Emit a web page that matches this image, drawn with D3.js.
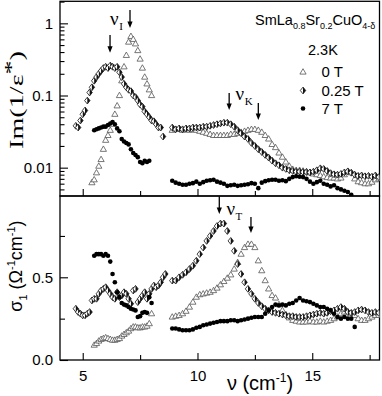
<!DOCTYPE html>
<html><head><meta charset="utf-8">
<script src="https://cdn.jsdelivr.net/npm/d3@7"></script>
<style>body{margin:0;background:#fff} svg{display:block}</style>
</head><body><svg id="c" width="382" height="396"></svg>
<script>
// ---- data (frequency in cm^-1) ----
const freqLo = [4.7,4.8,4.9,5.0,5.1,5.2,5.3,5.4,5.5,5.6,5.7,5.8,5.9,6.0,6.1,6.2,6.3,6.4,6.5,6.6,6.7,6.8,6.9,7.0,7.1,7.2,7.3,7.4,7.5,7.6,7.7,7.8,7.9,8.0,8.1,8.2,8.3,8.4,8.5,8.6];
const freqHi = [8.9,9.05,9.2,9.35,9.5,9.65,9.8,9.95,10.1,10.25,10.4,10.55,10.7,10.85,11.0,11.15,11.3,11.45,11.6,11.75,11.9,12.05,12.2,12.35,12.5,12.65,12.8,12.95,13.1,13.25,13.4,13.55,13.7,13.85,14.0,14.15,14.3,14.45,14.6,14.75,14.9,15.05,15.2,15.35,15.5,15.65,15.8,15.95,16.1,16.25,16.4,16.55,16.7,16.85,17.0,17.15,17.3,17.45,17.6,17.75,17.9];

// Im(1/eps*) — top panel
const imLo0T = [null,null,null,null,null,null,null,0.0062,0.0068,0.0085,0.0105,0.013,0.018,0.024,0.028,0.033,0.040,0.055,0.072,0.10,0.16,0.25,0.36,0.55,0.66,0.60,0.52,0.42,0.32,0.24,0.18,0.145,0.12,0.10,null,null,null,null,null,null];
const imLo025T = [0.038,0.036,0.045,0.055,0.062,0.085,0.11,0.13,0.16,0.18,0.20,0.22,0.24,0.25,0.24,0.26,0.25,0.24,0.25,0.21,0.18,0.145,0.13,0.12,0.115,0.10,0.095,0.085,0.075,0.07,0.06,0.055,0.05,0.045,0.044,0.04,0.036,0.036,0.027,null];
const imLo7T = [null,null,null,null,null,null,null,null,0.033,0.034,0.035,0.036,0.037,0.037,0.039,0.041,0.043,0.040,0.035,0.032,0.025,0.023,0.022,0.021,0.018,0.016,0.015,0.014,0.012,0.0115,0.0125,0.012,0.0125,null,null,null,null,null,null,null];
const imHi0T = [0.033,0.034,0.034,0.033,0.034,0.033,0.034,0.033,0.032,0.031,0.030,0.029,0.028,0.028,0.028,0.028,0.028,0.029,0.029,0.030,0.031,0.032,0.033,0.034,0.034,0.033,0.031,0.028,0.025,0.021,0.019,0.016,0.014,0.012,0.0105,0.0095,0.0092,0.0092,0.0090,0.0088,0.0085,0.0082,0.0080,0.0078,0.0075,0.0073,0.0072,0.0072,0.0070,0.0072,0.0080,0.0088,0.0085,0.0070,0.0064,0.0062,0.0060,0.0060,0.0063,0.0068,0.0070];
const imHi025T = [0.036,0.034,0.035,0.034,0.035,0.035,0.036,0.036,0.036,0.037,0.037,0.038,0.039,0.040,0.041,0.042,0.042,0.040,0.037,0.033,0.030,0.027,0.025,0.022,0.020,0.018,0.0165,0.015,0.0138,0.0125,0.0115,0.0108,0.0100,0.0096,0.0092,0.0090,0.0088,0.0088,0.0087,0.0087,0.0086,0.0088,0.0092,0.0098,0.0096,0.0090,0.0084,0.0081,0.0080,0.0082,0.0086,0.0089,0.0085,0.0080,0.0077,0.0078,0.0076,0.0077,0.0075,0.0078,0.0074];
const imHi7T = [0.0066,0.0062,0.0060,0.0058,0.0058,0.0060,0.0061,0.0064,0.0060,0.0063,0.0066,0.0067,0.0068,0.0064,0.0062,0.0060,0.0056,0.0057,0.0058,0.0056,0.0057,0.0058,0.0059,0.0061,0.0060,0.0052,0.0062,0.0065,0.0067,0.0068,0.0068,0.0066,0.0067,0.0065,0.0070,0.0074,0.0076,0.0075,0.0074,0.0070,0.0064,0.0060,0.0063,0.0066,0.0060,0.0058,0.0055,0.0057,0.0052,0.0050,0.0048,0.0046,0.0042,null,null,null,null,null,null,null,null];

// sigma_1 — bottom panel
const sigLo0T = [null,null,null,null,null,null,null,null,0.09,0.10,0.115,0.125,0.13,0.135,0.13,0.125,0.12,0.12,0.125,0.13,0.145,0.155,0.165,0.175,0.19,0.20,0.20,0.195,0.195,0.20,0.20,0.205,0.22,0.28,null,null,null,null,null,null];
const sigLo025T = [0.31,0.29,0.28,0.27,0.27,0.28,0.29,0.36,0.37,0.37,0.40,0.42,0.43,0.44,0.42,0.40,0.38,0.37,0.41,0.38,0.39,0.41,0.40,0.37,0.34,0.42,0.43,0.35,0.37,0.39,0.41,0.37,0.40,0.43,0.45,0.44,0.45,0.47,0.50,0.52];
const sigLo7T = [null,null,null,null,null,null,null,null,0.63,0.64,0.64,0.64,0.63,0.64,0.63,0.595,0.52,0.47,0.41,0.38,0.345,0.335,0.33,0.32,0.31,0.305,0.30,0.26,0.265,0.285,0.29,0.285,0.38,0.345,null,null,null,null,null,null];
const sigHi0T = [0.26,0.265,0.27,0.28,0.295,0.32,0.35,0.38,0.395,0.40,0.405,0.41,0.42,0.435,0.455,0.475,0.495,0.515,0.55,0.59,0.64,0.68,0.70,0.70,0.68,0.60,0.54,0.48,0.43,0.39,0.375,0.335,0.30,0.275,0.255,0.24,0.235,0.23,0.23,0.23,0.235,0.23,0.23,0.235,0.23,0.235,0.24,0.25,0.26,0.28,0.29,0.29,0.28,0.27,0.25,0.24,0.24,0.25,0.26,0.27,0.27];
const sigHi025T = [0.48,0.48,0.50,0.515,0.53,0.55,0.57,0.60,0.64,0.68,0.72,0.75,0.78,0.81,0.825,0.825,0.78,0.72,0.66,0.58,0.52,0.47,0.43,0.40,0.37,0.345,0.325,0.31,0.30,0.29,0.285,0.28,0.275,0.27,0.265,0.265,0.26,0.26,0.26,0.265,0.27,0.275,0.28,0.285,0.28,0.285,0.295,0.30,0.31,0.32,0.31,0.29,0.285,0.29,0.30,0.305,0.30,0.29,0.285,0.29,0.285];
const sigHi7T = [0.19,0.19,0.185,0.18,0.18,0.18,0.185,0.195,0.20,0.21,0.215,0.22,0.225,0.23,0.235,0.235,0.235,0.24,0.24,0.235,0.24,0.245,0.25,0.255,0.26,0.26,0.26,0.28,0.30,0.32,0.335,0.33,0.335,0.33,0.34,0.345,0.36,0.375,0.36,0.355,0.35,0.34,0.33,0.32,0.32,0.31,0.30,0.28,0.26,0.25,0.26,0.25,0.25,0.20,null,null,null,null,null,null,null];

const seriesNames = ["0 T", "0.25 T", "7 T"];
const xTicksMajor = [5, 10, 15];
const xTicksMinor = [7.5, 12.5, 17.5];
const topTicksMajor = [0.01, 0.1, 1];
const botTicksMajor = [0.0, 0.5];
const botTicksMinor = [0.25, 0.75];

// annotations (data coordinates)
const arrowsTop = [{f:6.19, a:0.69, b:0.39}, {f:7.06, a:1.53, b:0.86}, {f:11.38, a:0.108, b:0.063}, {f:12.65, a:0.0787, b:0.0458}];
const arrowsBot = [{f:10.95, a:0.99, b:0.883}, {f:12.33, a:0.865, b:0.768}];
const labelsTop = [{f:6.19, v:0.95, sub:"I"}, {f:11.66, v:0.0866, sub:"K"}];
const labelsBot = [{f:11.26, v:0.877, sub:"T"}];

// ---- layout ----
const svg = d3.select('#c');
const L = 60, R = 379.5, T = 1.3, M = 196, B = 360;
const x = d3.scaleLinear().domain([4.01, 17.93]).range([L, R]);
const yTop = d3.scaleLog().domain([0.00405, 2.02]).range([M, T]);
const yBot = d3.scaleLinear().domain([0, 0.9915]).range([B, M]);
const sans = "Liberation Sans, Arial, sans-serif";
const serif = "Liberation Serif, Times New Roman, serif";

const defs = svg.append('defs');
defs.append('clipPath').attr('id','cpT').append('rect').attr('x',L).attr('y',T).attr('width',R-L).attr('height',M-T);
defs.append('clipPath').attr('id','cpB').append('rect').attr('x',L).attr('y',M).attr('width',R-L).attr('height',B-M);

function styleAxis(g, fs){
  g.select('.domain').remove();
  g.selectAll('line').attr('stroke','#000').attr('stroke-width',1.1);
  g.selectAll('text').attr('font-family',sans).attr('font-size',fs).attr('fill','#000');
}

// log minor ticks
const minorLog = [];
[0.001,0.01,0.1,1].forEach(d => { for (let k=2;k<=9;k++){ const v=d*k; if (v>0.00405 && v<2.02) minorLog.push(v);} });

// top panel axes
svg.append('g').attr('transform',`translate(${L},0)`)
  .call(d3.axisLeft(yTop).tickValues(topTicksMajor).tickSize(-8).tickPadding(7).tickFormat(d3.format('~g')))
  .call(g=>styleAxis(g,15));
svg.append('g').attr('transform',`translate(${L},0)`)
  .call(d3.axisLeft(yTop).tickValues(minorLog).tickSize(-4.5).tickFormat(''))
  .call(g=>styleAxis(g,15));
svg.append('g').attr('transform',`translate(0,${M})`)
  .call(d3.axisBottom(x).tickValues(xTicksMajor).tickSize(-7).tickFormat(''))
  .call(g=>styleAxis(g,15));
svg.append('g').attr('transform',`translate(0,${M})`)
  .call(d3.axisBottom(x).tickValues(xTicksMinor).tickSize(-5).tickFormat(''))
  .call(g=>styleAxis(g,15));

// bottom panel axes
svg.append('g').attr('transform',`translate(${L},0)`)
  .call(d3.axisLeft(yBot).tickValues(botTicksMajor).tickSize(-8).tickPadding(7).tickFormat(d3.format('.1f')))
  .call(g=>styleAxis(g,15));
svg.append('g').attr('transform',`translate(${L},0)`)
  .call(d3.axisLeft(yBot).tickValues(botTicksMinor).tickSize(-5).tickFormat(''))
  .call(g=>styleAxis(g,15));
svg.append('g').attr('transform',`translate(0,${B})`)
  .call(d3.axisBottom(x).tickValues(xTicksMajor).tickSize(-7).tickPadding(10).tickFormat(d3.format('d')))
  .call(g=>styleAxis(g,15));
svg.append('g').attr('transform',`translate(0,${B})`)
  .call(d3.axisBottom(x).tickValues(xTicksMinor).tickSize(-5).tickFormat(''))
  .call(g=>styleAxis(g,15));

// frames
svg.append('rect').attr('x',L).attr('y',T).attr('width',R-L).attr('height',M-T).attr('fill','none').attr('stroke','#000').attr('stroke-width',1.3);
svg.append('rect').attr('x',L).attr('y',M).attr('width',R-L).attr('height',B-M).attr('fill','none').attr('stroke','#000').attr('stroke-width',1.3);

// markers
const triPath = "M0,-3.3L3.1,2.1L-3.1,2.1Z";
const diaPath = "M0,-3.4L2.7,0L0,3.4L-2.7,0Z";
const diaHalf = "M0,-3.4L2.7,0L0,3.4Z";
function drawTri(g, pts){
  g.selectAll(null).data(pts).join('path').attr('d',triPath)
   .attr('transform',d=>`translate(${d[0]},${d[1]})`)
   .attr('fill','#fff').attr('stroke','#555').attr('stroke-width',0.8);
}
function drawDia(g, pts){
  const s = g.selectAll(null).data(pts).join('g').attr('transform',d=>`translate(${d[0]},${d[1]})`);
  s.append('path').attr('d',diaPath).attr('fill','#fff').attr('stroke','#111').attr('stroke-width',0.8);
  s.append('path').attr('d',diaHalf).attr('fill','#111');
}
function drawDot(g, pts){
  g.selectAll(null).data(pts).join('circle').attr('cx',d=>d[0]).attr('cy',d=>d[1]).attr('r',2.3).attr('fill','#000');
}
function pts(freqs, vals, ys){
  const out=[]; freqs.forEach((f,i)=>{ if (vals[i]!=null) out.push([x(f), ys(vals[i])]); }); return out;
}

const gT = svg.append('g').attr('clip-path','url(#cpT)');
drawTri(gT, pts(freqLo, imLo0T, yTop).concat(pts(freqHi, imHi0T, yTop)));
drawDia(gT, pts(freqLo, imLo025T, yTop).concat(pts(freqHi, imHi025T, yTop)));
drawDot(gT, pts(freqLo, imLo7T, yTop).concat(pts(freqHi, imHi7T, yTop)));

const gB = svg.append('g').attr('clip-path','url(#cpB)');
drawTri(gB, pts(freqLo, sigLo0T, yBot).concat(pts(freqHi, sigHi0T, yBot)));
drawDia(gB, pts(freqLo, sigLo025T, yBot).concat(pts(freqHi, sigHi025T, yBot)));
drawDot(gB, pts(freqLo, sigLo7T, yBot).concat(pts(freqHi, sigHi7T, yBot)));

// arrows
function arrow(px, y0, y1){
  svg.append('line').attr('x1',px).attr('x2',px).attr('y1',y0).attr('y2',y1-5).attr('stroke','#000').attr('stroke-width',1.3);
  svg.append('path').attr('d',`M${px-2.6},${y1-6.5}L${px+2.6},${y1-6.5}L${px},${y1}Z`).attr('fill','#000');
}
arrowsTop.forEach(a=>arrow(x(a.f), yTop(a.a), yTop(a.b)));
arrowsBot.forEach(a=>arrow(x(a.f), yBot(a.a), yBot(a.b)));
function nuLabel(px, py, sub){
  const t = svg.append('text').attr('x',px).attr('y',py).attr('font-family',serif).attr('font-size',19);
  t.append('tspan').text('ν');
  t.append('tspan').attr('dy',5).attr('dx',0.5).attr('font-size',11).text(sub);
}
labelsTop.forEach(l=>nuLabel(x(l.f), yTop(l.v), l.sub));
labelsBot.forEach(l=>nuLabel(x(l.f), yBot(l.v), l.sub));

// formula & legend
const ft = svg.append('text').attr('x',255).attr('y',25).attr('font-family',sans).attr('font-size',14.5);
[["SmLa",0],["0.8",1],["Sr",0],["0.2",1],["CuO",0],["4-δ",1]].forEach(([s,sub],i,arr)=>{
  const prev = i>0 ? arr[i-1][1] : 0;
  const dy = sub && !prev ? 4 : (!sub && prev ? -4 : 0);
  ft.append('tspan').attr('dy',dy).attr('font-size',sub?9:14.5).text(s);
});
svg.append('text').attr('x',308).attr('y',55).attr('font-family',sans).attr('font-size',14.5).text('2.3K');
const legY = [72, 90.5, 108.5];
const lg = svg.append('g');
drawTri(lg, [[303, legY[0]]]);
drawDia(lg, [[303, legY[1]]]);
drawDot(lg, [[303, legY[2]]]);
seriesNames.forEach((n,i)=>{
  svg.append('text').attr('x',321.5).attr('y',legY[i]+5).attr('font-family',sans).attr('font-size',15).text(n);
});

// axis titles
const yl1 = svg.append('text').attr('transform','translate(23,100) rotate(-90)').attr('text-anchor','middle')
  .attr('font-family',serif).attr('font-size',19).attr('textLength',98).attr('lengthAdjust','spacingAndGlyphs');
yl1.append('tspan').text('Im(1/ε');
yl1.append('tspan').attr('dy',-5).text('*');
yl1.append('tspan').attr('dy',5).text(')');

const yl2 = svg.append('text').attr('transform','translate(22,266) rotate(-90)').attr('text-anchor','middle')
  .attr('font-family',sans).attr('font-size',18);
yl2.append('tspan').text('σ');
yl2.append('tspan').attr('dy',5).attr('font-size',11).text('1');
yl2.append('tspan').attr('dy',-5).text(' (Ω');
yl2.append('tspan').attr('dy',-7).attr('font-size',11).text('-1');
yl2.append('tspan').attr('dy',7).text('cm');
yl2.append('tspan').attr('dy',-7).attr('font-size',11).text('-1');
yl2.append('tspan').attr('dy',7).text(')');

const xl = svg.append('text').attr('x',260).attr('y',390).attr('text-anchor','middle')
  .attr('font-family',sans).attr('font-size',20);
xl.append('tspan').text('ν (cm');
xl.append('tspan').attr('dy',-8).attr('font-size',12).text('-1');
xl.append('tspan').attr('dy',8).text(')');
</script></body></html>
